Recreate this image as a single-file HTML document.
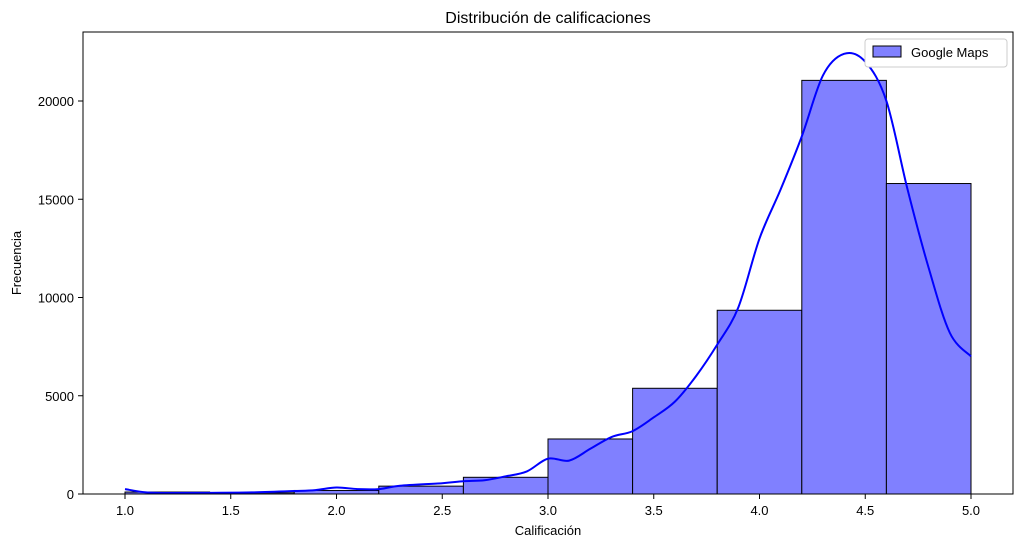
<!DOCTYPE html>
<html><head><meta charset="utf-8"><style>
body{margin:0;background:#fff;font-family:"Liberation Sans","DejaVu Sans",sans-serif;}
</style></head><body>
<svg width="1023" height="547" xmlns="http://www.w3.org/2000/svg" font-family="Liberation Sans, DejaVu Sans, sans-serif">
<g id="bars"></g><path id="kde" fill="none" stroke="#0000ff" stroke-width="2"/>
<rect x="83" y="32" width="930" height="462" fill="none" stroke="#000" stroke-width="1"/>
<g id="axes"></g>
<text x="548" y="23" text-anchor="middle" font-size="16">Distribución de calificaciones</text>
<text x="548" y="535" text-anchor="middle" font-size="13">Calificación</text>
<text transform="translate(21,263) rotate(-90)" text-anchor="middle" font-size="13">Frecuencia</text>
<g>
<rect x="865" y="39" width="142" height="28" rx="3" fill="#fff" stroke="#ccc"/>
<rect x="873" y="46" width="28" height="11" fill="#8080ff" stroke="#000"/>
<text x="911" y="57" font-size="13">Google Maps</text>
</g>
</svg>
<script>
const binEdges=[1.0,1.4,1.8,2.2,2.6,3.0,3.4,3.8,4.2,4.6,5.0];
const counts=[100,60,180,400,850,2800,5380,9350,21050,15800];
const kdeX=[1.0,1.1,1.2,1.4,1.6,1.8,1.9,2.0,2.1,2.2,2.3,2.5,2.6,2.7,2.8,2.9,3.0,3.1,3.2,3.3,3.4,3.5,3.6,3.7,3.8,3.9,4.0,4.1,4.2,4.3,4.4,4.5,4.6,4.7,4.8,4.9,5.0];
const kdeY=[250,80,50,60,80,150,200,330,250,250,420,550,650,700,900,1150,1800,1700,2300,2900,3200,3900,4700,6000,7600,9500,13000,15500,18200,21300,22400,22000,20000,15500,11500,8200,7000];
const xTicks=[1.0,1.5,2.0,2.5,3.0,3.5,4.0,4.5,5.0];
const yTicks=[0,5000,10000,15000,20000];
const sx=v=>125+(v-1)*211.5, sy=v=>494-v*393/20000;
const NS="http://www.w3.org/2000/svg";
const bars=document.getElementById('bars');
counts.forEach((c,i)=>{const r=document.createElementNS(NS,'rect');
r.setAttribute('x',sx(binEdges[i]));r.setAttribute('width',sx(binEdges[i+1])-sx(binEdges[i]));
r.setAttribute('y',sy(c));r.setAttribute('height',sy(0)-sy(c));
r.setAttribute('fill','#8080ff');r.setAttribute('stroke','#000');


bars.appendChild(r);});
const P=kdeX.map((x,i)=>[sx(x),sy(kdeY[i])]);
let d=`M${P[0][0]},${P[0][1]}`;
for(let i=0;i<P.length-1;i++){const p0=P[Math.max(0,i-1)],p1=P[i],p2=P[i+1],p3=P[Math.min(P.length-1,i+2)];
d+=` C${p1[0]+(p2[0]-p0[0])/6},${p1[1]+(p2[1]-p0[1])/6} ${p2[0]-(p3[0]-p1[0])/6},${p2[1]-(p3[1]-p1[1])/6} ${p2[0]},${p2[1]}`;}
document.getElementById('kde').setAttribute('d',d);
const ax=document.getElementById('axes');let h='';
xTicks.forEach(t=>{h+=`<line x1="${sx(t)}" x2="${sx(t)}" y1="494" y2="499" stroke="#000"/><text x="${sx(t)}" y="515" text-anchor="middle" font-size="13">${t.toFixed(1)}</text>`;});
yTicks.forEach(t=>{h+=`<line x1="78" x2="83" y1="${sy(t)}" y2="${sy(t)}" stroke="#000"/><text x="74" y="${sy(t)+5}" text-anchor="end" font-size="13">${t}</text>`;});
ax.innerHTML=h;
</script>
</body></html>
